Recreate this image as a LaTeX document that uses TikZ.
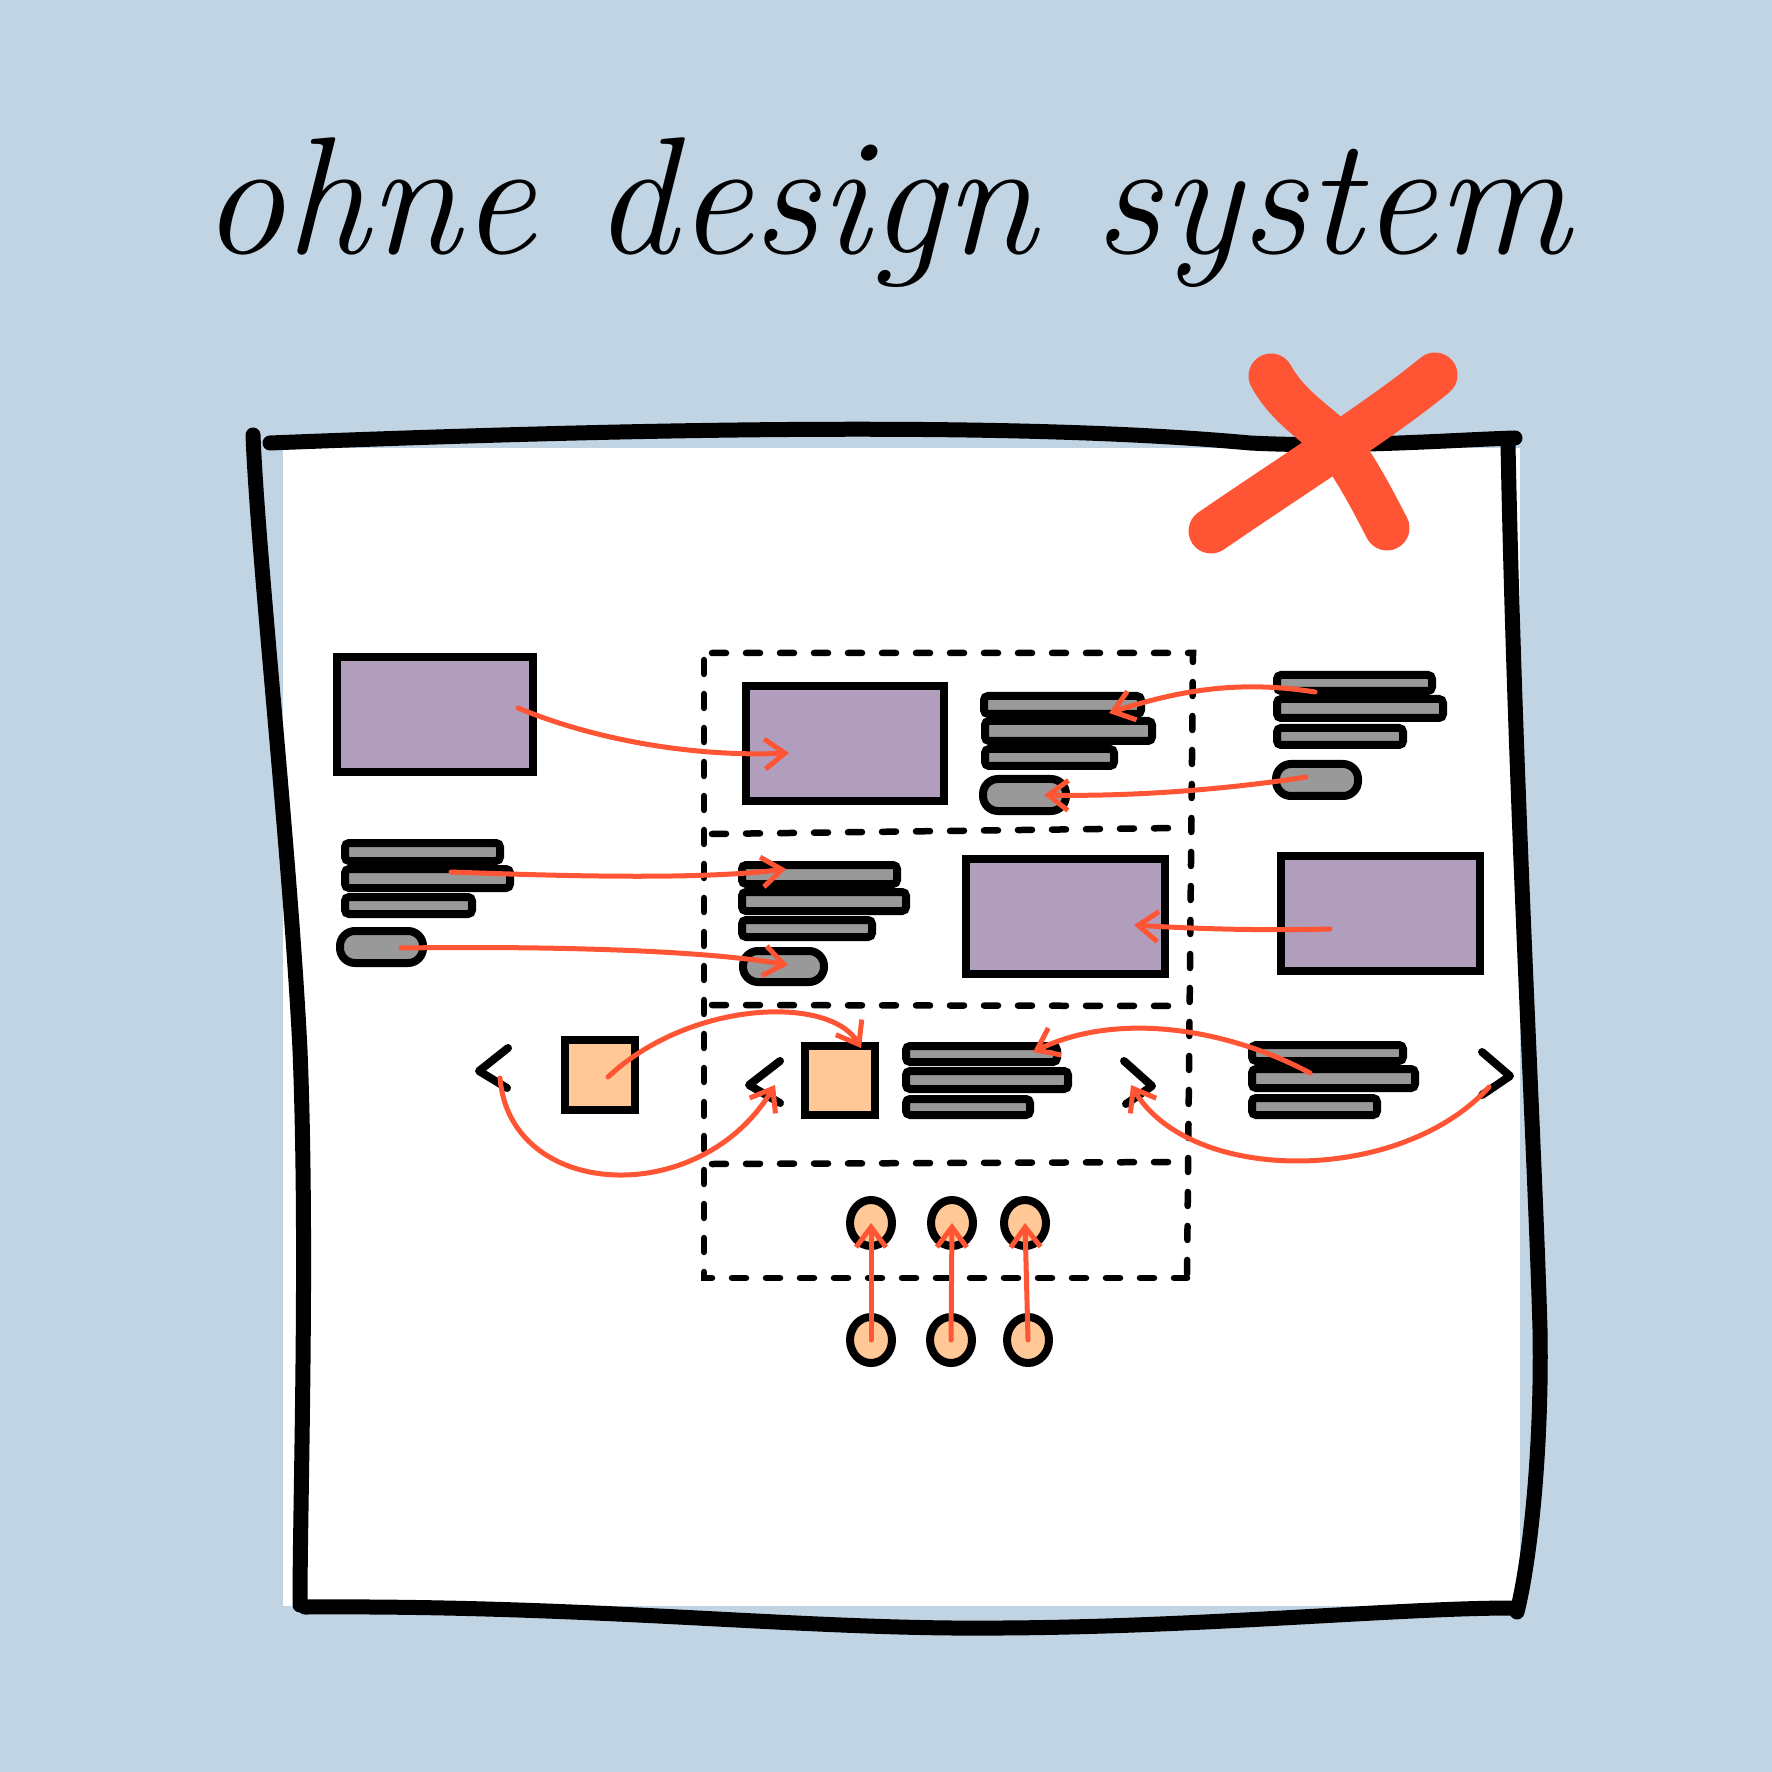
\documentclass[tikz,border=0pt]{standalone}
\usepackage{fontspec}
\usetikzlibrary{arrows.meta,shapes.geometric}
\definecolor{bgblue}{RGB}{192,212,228}
\definecolor{purp}{RGB}{177,158,189}
\definecolor{gry}{RGB}{153,153,153}
\definecolor{orng}{RGB}{255,200,150}
\definecolor{redx}{RGB}{255,85,52}
\tikzset{
 purplebox/.style={draw=black, line width=0.8mm, fill=purp},
 textbar/.style={draw=black, line width=0.8mm, fill=gry, rounded corners=0.4mm},
 pillbox/.style={draw=black, line width=0.8mm, fill=gry, rounded corners=1.5mm},
 orangesq/.style={draw=black, line width=0.75mm, fill=orng},
 dotnode/.style={ellipse, draw=black, line width=0.8mm, fill=orng, inner sep=0pt, minimum width=4.2mm, minimum height=4.6mm},
 chev/.style={line width=0.8mm, line cap=round, line join=round},
 redarrow/.style={draw=redx, line width=0.5mm, line cap=round, -{Straight Barb[length=2mm,width=3mm]}},
 frameline/.style={line width=1.5mm, line cap=round},
 dashline/.style={line width=0.65mm, line cap=round, dash pattern=on 1.4mm off 2mm},
 bigx/.style={draw=redx, line width=4.5mm, line cap=round},
}
\newcommand\shp[6]{\node[#2, inner sep=0pt, outer sep=0pt, minimum width={(#5-#3)*0.1mm}, minimum height={(#6-#4)*0.1mm}] (#1) at ({(#3+#5)/2},{(#4+#6)/2}) {};}
\begin{document}
\begin{tikzpicture}[x=0.1mm,y=-0.1mm]
\useasboundingbox (0,0) rectangle (1772,1772);
\fill[bgblue] (0,0) rectangle (1772,1772);
% title
\node[anchor=base, inner sep=0pt] (title) at (886,254) {\fontsize{47.5}{52}\selectfont\itshape ohne design system};
% page
\fill[white] (283,448) rectangle (1520,1606);
\draw[frameline] (253,435) .. controls (258,560) and (290,850) .. (300,1050) .. controls (308,1250) and (300,1500) .. (300,1605);
\draw[frameline] (270,443) .. controls (600,430) and (1000,420) .. (1250,443) .. controls (1350,448) and (1450,440) .. (1515,438);
\draw[frameline] (1508,445) .. controls (1515,800) and (1535,1150) .. (1540,1330) .. controls (1542,1450) and (1530,1560) .. (1517,1612);
\draw[frameline] (305,1607) .. controls (600,1605) and (800,1630) .. (1000,1628) .. controls (1200,1627) and (1400,1608) .. (1512,1608);
% dashed container
\draw[dashline] (704,660) -- (704,1278) -- (1187,1278);
\draw[dashline] (712,653) -- (1193,653) -- (1187,1278);
\draw[dashline] (712,834) -- (1176,828);
\draw[dashline] (712,1005) -- (1180,1006);
\draw[dashline] (712,1164) -- (1180,1162);
% row 1
\shp{p1}{purplebox}{337}{657}{533}{772}
\shp{p2}{purplebox}{746}{686}{944}{801}
\shp{m1}{textbar}{984}{696}{1141}{714}
\shp{m2}{textbar}{985}{721}{1152}{741}
\shp{m3}{textbar}{985}{749}{1114}{766}
\shp{mp}{pillbox}{983}{779}{1066}{811}
\shp{r1}{textbar}{1277}{675}{1432}{691}
\shp{r2}{textbar}{1277}{699}{1443}{718}
\shp{r3}{textbar}{1277}{728}{1403}{745}
\shp{rp}{pillbox}{1276}{764}{1358}{796}
% row 2
\shp{l1}{textbar}{345}{843}{500}{861}
\shp{l2}{textbar}{345}{869}{510}{888}
\shp{l3}{textbar}{345}{897}{472}{914}
\shp{lp}{pillbox}{340}{931}{423}{963}
\shp{n1}{textbar}{742}{865}{897}{884}
\shp{n2}{textbar}{742}{892}{906}{911}
\shp{n3}{textbar}{742}{920}{872}{937}
\shp{np}{pillbox}{743}{951}{824}{982}
\shp{p3}{purplebox}{966}{859}{1165}{974}
\shp{p4}{purplebox}{1281}{856}{1480}{971}
% row 3
\shp{o1}{orangesq}{565}{1040}{635}{1110}
\shp{o2}{orangesq}{805}{1046}{875}{1115}
\shp{s1}{textbar}{906}{1046}{1057}{1062}
\shp{s2}{textbar}{906}{1071}{1068}{1089}
\shp{s3}{textbar}{906}{1099}{1030}{1115}
\shp{u1}{textbar}{1252}{1045}{1403}{1061}
\shp{u2}{textbar}{1252}{1069}{1415}{1088}
\shp{u3}{textbar}{1252}{1098}{1377}{1115}
\draw[chev] (508,1048) -- (479,1071) -- (507,1088);
\draw[chev] (780,1061) -- (749,1085) -- (780,1103);
\draw[chev] (1124,1061) -- (1152,1086) -- (1126,1104);
\draw[chev] (1482,1052) -- (1510,1076) -- (1482,1095);
% dots
\node[dotnode] (t1) at (871,1223) {};
\node[dotnode] (t2) at (952,1223) {};
\node[dotnode] (t3) at (1025,1223) {};
\node[dotnode] (b1) at (871,1340) {};
\node[dotnode] (b2) at (951,1340) {};
\node[dotnode] (b3) at (1028,1340) {};
% arrow end points
\coordinate (a1s) at (518,708);  \coordinate (a1e) at (789,753);
\coordinate (a2s) at (1315,692); \coordinate (a2e) at (1109,713);
\coordinate (a3s) at (1306,777); \coordinate (a3e) at (1044,795);
\coordinate (a4s) at (451,872);  \coordinate (a4e) at (786,869);
\coordinate (a5s) at (401,948);  \coordinate (a5e) at (788,965);
\coordinate (a6s) at (1330,929); \coordinate (a6e) at (1134,925);
\coordinate (a7s) at (608,1077); \coordinate (a7e) at (861,1048);
\coordinate (a8s) at (1310,1073); \coordinate (a8e) at (1033,1052);
\coordinate (a9s) at (500,1078); \coordinate (a9e) at (775,1085);
\coordinate (a10s) at (1489,1087); \coordinate (a10e) at (1131,1085);
% arrows
\draw[redarrow] (a1s) .. controls (600,742) and (700,757) .. (a1e);
\draw[redarrow] (a2s) .. controls (1240,680) and (1180,690) .. (a2e);
\draw[redarrow] (a3s) .. controls (1250,786) and (1150,797) .. (a3e);
\draw[redarrow] (a4s) .. controls (560,876) and (700,880) .. (a4e);
\draw[redarrow] (a5s) .. controls (550,946) and (700,950) .. (a5e);
\draw[redarrow] (a6s) .. controls (1250,931) and (1180,928) .. (a6e);
\draw[redarrow] (a7s) .. controls (690,1000) and (830,995) .. (a7e);
\draw[redarrow] (a8s) .. controls (1230,1030) and (1120,1010) .. (a8e);
\draw[redarrow] (a9s) .. controls (510,1200) and (700,1210) .. (a9e);
\draw[redarrow] (a10s) .. controls (1400,1185) and (1190,1185) .. (a10e);
\draw[redarrow] (b1.center) -- (t1.center);
\draw[redarrow] (b2.center) -- (t2.center);
\draw[redarrow] (b3.center) -- (t3.center);
% big X
\draw[bigx] (1271,376) .. controls (1290,410) and (1320,425) .. (1339,446) .. controls (1360,475) and (1375,505) .. (1387,528);
\draw[bigx] (1435,375) .. controls (1380,420) and (1300,470) .. (1211,531);
\end{tikzpicture}
\end{document}
